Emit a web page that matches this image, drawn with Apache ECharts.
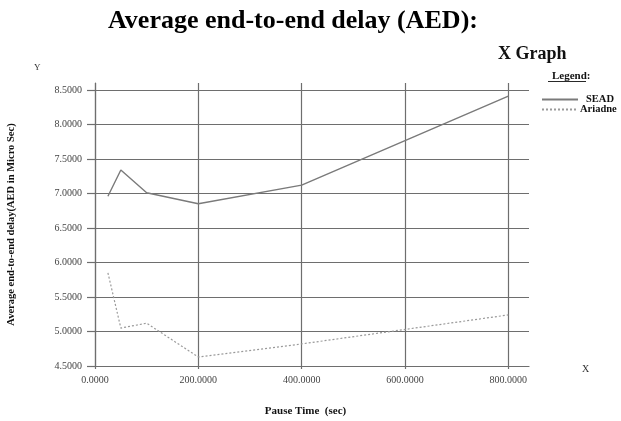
<!DOCTYPE html>
<html><head><meta charset="utf-8">
<script src="https://cdn.jsdelivr.net/npm/echarts@6/dist/echarts.min.js"></script>
<style>html,body{margin:0;padding:0;background:#fff}#c{width:621px;height:421px}</style>
</head><body><div id="c"></div>
<script>
const pauseTimes = [25, 50, 100, 200, 400, 800];
const seadValues = [6.96, 7.34, 7.01, 6.85, 7.12, 8.41];
const ariadneValues = [5.85, 5.05, 5.12, 4.63, 4.82, 5.24];
const xTicks = [0, 200, 400, 600, 800];
const yTicks = [4.5, 5.0, 5.5, 6.0, 6.5, 7.0, 7.5, 8.0, 8.5];

const serif = '"Liberation Serif", "DejaVu Serif", serif';
const gridColor = '#6e6e6e';
const legendText = {fontFamily: serif, fontSize: 10.5, fontWeight: 'bold', color: '#111'};
const chart = echarts.init(document.getElementById('c'), null, {renderer: 'canvas'});
chart.setOption({
  animation: false,
  backgroundColor: '#fff',
  title: [
    {text: 'Average end-to-end delay (AED):', left: 103, top: 3,
     textStyle: {fontFamily: serif, fontSize: 26, fontWeight: 'bold', color: '#000'}},
    {text: 'X Graph', left: 493, top: 40,
     textStyle: {fontFamily: serif, fontSize: 18, fontWeight: 'bold', color: '#111'}},
    {text: 'Legend:', left: 547, top: 66,
     textStyle: {fontFamily: serif, fontSize: 11, fontWeight: 'bold', color: '#111'}}
  ],
  graphic: [
    {type: 'line', shape: {x1: 548, y1: 81.5, x2: 586, y2: 81.5}, style: {stroke: '#111', lineWidth: 0.9}},
    {type: 'text', left: 34, top: 63, style: {text: 'Y', font: '9px ' + serif, fill: '#333'}},
    {type: 'text', left: 582, top: 364, style: {text: 'X', font: '10px ' + serif, fill: '#333'}}
  ],
  legend: [
    {left: 536, top: 89, itemWidth: 36, itemHeight: 8, itemGap: 0,
     itemStyle: {opacity: 0},
     textStyle: Object.assign({padding: [0, 0, 0, 3]}, legendText), data: ['SEAD']},
    {left: 536, top: 99, itemWidth: 36, itemHeight: 8, itemGap: 0,
     itemStyle: {opacity: 0},
     textStyle: Object.assign({padding: [0, 0, 0, -3]}, legendText), data: ['Ariadne']}
  ],
  grid: {left: 95, right: 92, top: 83, bottom: 55, outerBoundsMode: 'none', containLabel: false},
  xAxis: {
    type: 'value', min: 0, max: 840,
    name: 'Pause Time  (sec)', nameLocation: 'middle', nameGap: 40,
    nameTextStyle: {fontFamily: serif, fontSize: 11, fontWeight: 'bold', color: '#111', padding: [0, 13, 0, 0]},
    axisLine: {show: true, lineStyle: {color: gridColor, width: 1.2}},
    axisTick: {show: true, length: 3, customValues: xTicks, lineStyle: {color: gridColor, width: 1.2}},
    axisLabel: {customValues: xTicks, margin: 9, fontFamily: serif, fontSize: 10, color: '#444',
      formatter: v => v.toFixed(4)},
    splitLine: {show: true, lineStyle: {color: gridColor, width: 1.2}}
  },
  yAxis: {
    type: 'value', min: 4.5, max: 8.6,
    name: 'Average end-to-end delay(AED in Micro Sec)', nameLocation: 'middle', nameGap: 78,
    nameTextStyle: {fontFamily: serif, fontSize: 10.5, fontWeight: 'bold', color: '#111'},
    axisLine: {show: true, lineStyle: {color: gridColor, width: 1.2}},
    axisTick: {show: true, length: 8, customValues: yTicks, lineStyle: {color: gridColor, width: 1.2}},
    axisLabel: {customValues: yTicks, margin: 13, fontFamily: serif, fontSize: 10, color: '#444',
      formatter: v => v.toFixed(4)},
    splitLine: {show: true, lineStyle: {color: gridColor, width: 1.2}}
  },
  series: [
    {name: 'SEAD', type: 'line', symbol: 'none',
     data: pauseTimes.map((x, i) => [x, seadValues[i]]),
     lineStyle: {color: '#7a7a7a', width: 1.4}, itemStyle: {color: '#7a7a7a'}},
    {name: 'Ariadne', type: 'line', symbol: 'none',
     data: pauseTimes.map((x, i) => [x, ariadneValues[i]]),
     lineStyle: {color: '#9a9a9a', width: 1.2, type: [2, 2]}, itemStyle: {color: '#9a9a9a'}}
  ]
});
</script></body></html>
